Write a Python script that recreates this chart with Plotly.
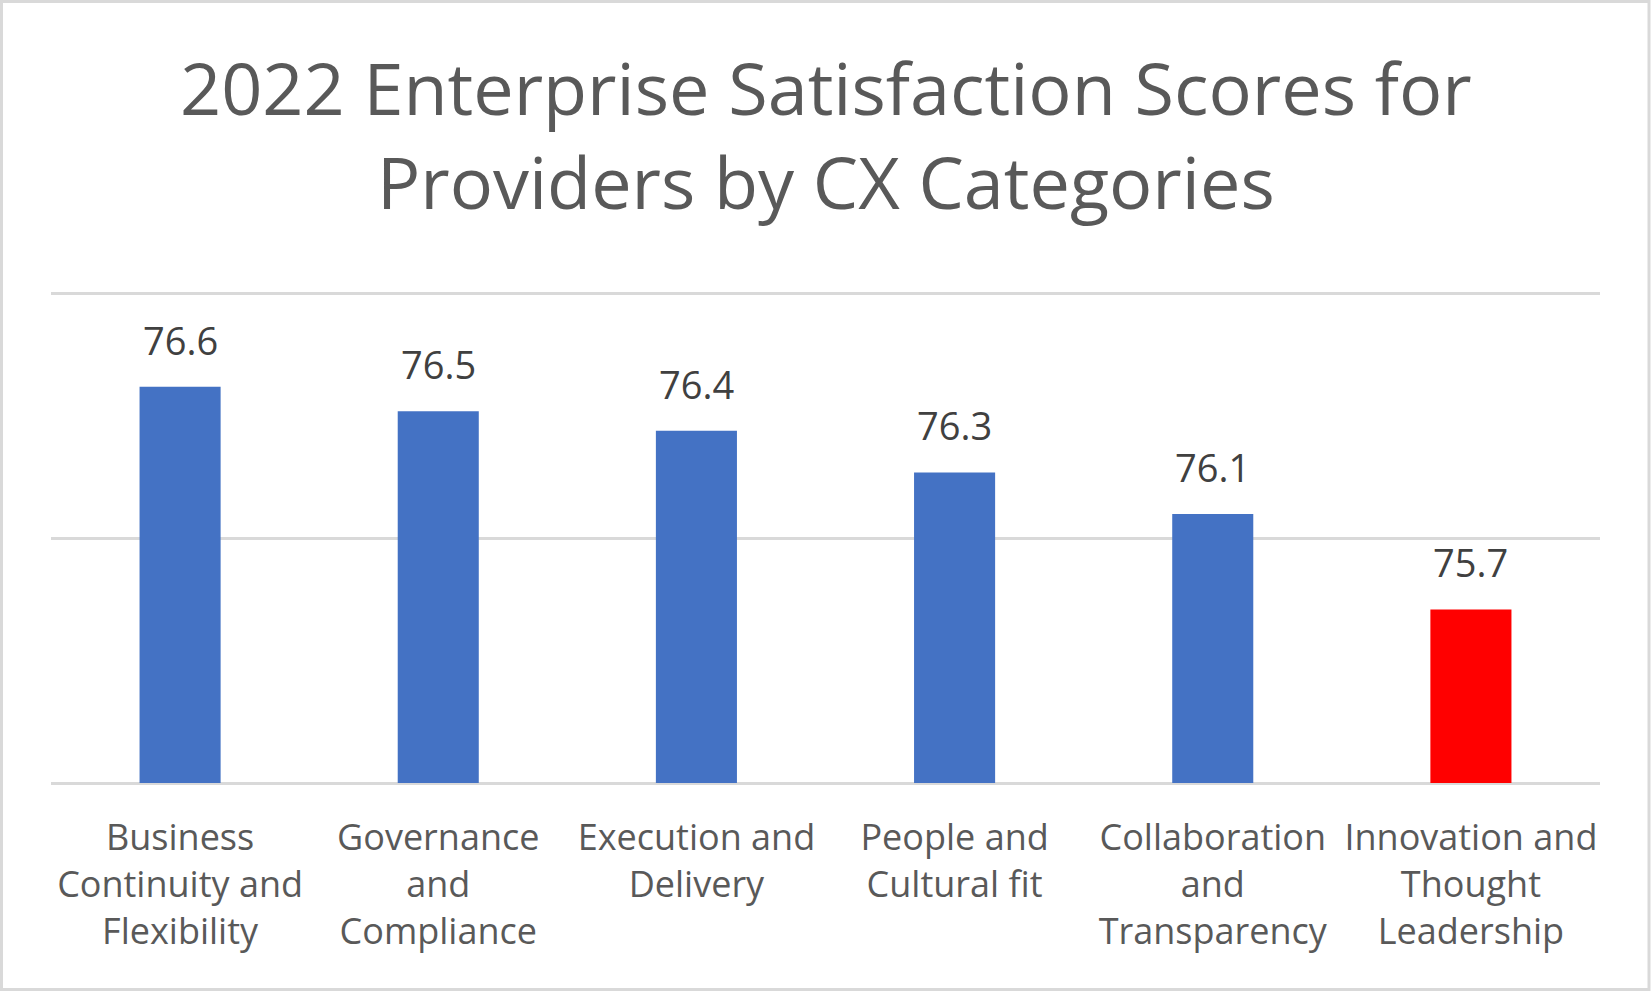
import plotly.graph_objects as go

categories = [
    "Business<br>Continuity and<br>Flexibility",
    "Governance<br>and<br>Compliance",
    "Execution and<br>Delivery",
    "People and<br>Cultural fit",
    "Collaboration<br>and<br>Transparency",
    "Innovation and<br>Thought<br>Leadership",
]
scores = [76.62, 76.52, 76.44, 76.27, 76.10, 75.71]
bar_colors = ["#4472C4", "#4472C4", "#4472C4", "#4472C4", "#4472C4", "#FF0000"]
axis_min, axis_max = 75, 77
title_text = "2022 Enterprise Satisfaction Scores for<br>Providers by CX Categories"

W, H = 1652, 992
ML, MR, MT, MB = 51, 52, 289, 204
PW, PH = W - ML - MR, H - MT - MB
FONT = "Open Sans"

fig = go.Figure()
fig.add_trace(go.Bar(
    x=categories, y=[s - axis_min for s in scores], base=axis_min,
    marker=dict(color=bar_colors, line=dict(width=0)),
    width=0.314, hoverinfo="skip",
))

for c, v in zip(categories, scores):
    fig.add_annotation(x=c, y=v, xref="x", yref="y", text=f"{v:.1f}",
                       showarrow=False, yanchor="bottom", yshift=19,
                       font=dict(family=FONT, size=38, color="#404040"))

fig.add_annotation(x=0.5, xref="paper", y=(H - MB - 36) / PH, yref="paper",
                   text=title_text, showarrow=False, yanchor="top",
                   font=dict(family=FONT, size=72, color="#595959"))

# outer border
fig.add_shape(type="rect", xref="paper", yref="paper",
              x0=(1.5 - ML) / PW, x1=(W - 3 - ML) / PW,
              y0=-(MB - 2.5) / PH,
              y1=(MT - 1.5 + PH) / PH,
              line=dict(color="#D9D9D9", width=3), layer="below")

fig.update_layout(
    width=W, height=H, margin=dict(l=ML, r=MR, t=MT, b=MB, autoexpand=False),
    paper_bgcolor="white", plot_bgcolor="white", showlegend=False,
    font=dict(family=FONT, color="#595959"),
    bargap=0.686,
)
fig.update_xaxes(showgrid=False, showline=False, zeroline=False,
                 ticks="outside", ticklen=18, tickcolor="rgba(0,0,0,0)",
                 tickfont=dict(family=FONT, size=36, color="#595959"))
fig.update_yaxes(range=[axis_min - 0.02, axis_max + 0.02], dtick=1, tick0=axis_min,
                 showgrid=True, gridcolor="#D9D9D9", gridwidth=3,
                 showticklabels=False, zeroline=False, showline=False)

fig.write_html("out.html", config={"displayModeBar": False},
               post_script="document.body.style.margin='0';")
